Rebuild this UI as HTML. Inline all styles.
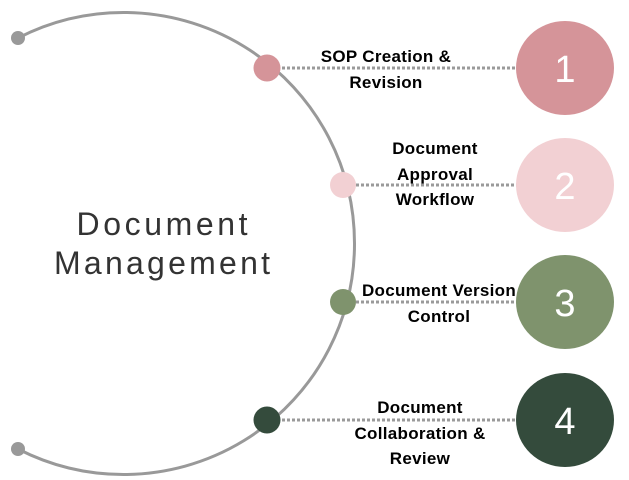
<!DOCTYPE html>
<html><head><style>
body{margin:0;background:#fff;width:629px;height:480px;overflow:hidden}
svg{display:block}
.t{font-family:"Liberation Sans",Arial,sans-serif;font-weight:bold;font-size:17px;fill:#000;text-anchor:middle;letter-spacing:0.3px}
.n{font-family:"Liberation Sans",sans-serif;font-size:38px;fill:#fff;text-anchor:middle}
.d{stroke:#9a9a9a;stroke-width:3;stroke-dasharray:3 2}
.m{font-family:"Liberation Sans",sans-serif;font-size:32px;fill:#333;text-anchor:middle}
</style></head><body>
<svg width="629" height="480" viewBox="0 0 629 480">
<path d="M18 38 A231 231 0 1 1 18 449" fill="none" stroke="#999" stroke-width="3"/>
<circle cx="18" cy="38" r="7" fill="#999"/>
<circle cx="18" cy="449" r="7" fill="#999"/>
<text class="m" x="162" y="235" textLength="171" lengthAdjust="spacing">Document</text>
<text class="m" x="162" y="274" textLength="216" lengthAdjust="spacing">Management</text>
<line class="d" x1="282" y1="68" x2="517" y2="68"/>
<line class="d" x1="356" y1="185" x2="517" y2="185"/>
<line class="d" x1="356" y1="302" x2="517" y2="302"/>
<line class="d" x1="282" y1="420" x2="517" y2="420"/>
<circle cx="267" cy="68" r="13.5" fill="#d59499"/>
<circle cx="343" cy="185" r="13" fill="#f2d0d3"/>
<circle cx="343" cy="302" r="13" fill="#7f936d"/>
<circle cx="267" cy="420" r="13.5" fill="#344b3c"/>
<ellipse cx="565" cy="68" rx="49" ry="47" fill="#d59499"/>
<ellipse cx="565" cy="185" rx="49" ry="47" fill="#f2d0d3"/>
<ellipse cx="565" cy="302" rx="49" ry="47" fill="#7f936d"/>
<ellipse cx="565" cy="420" rx="49" ry="47" fill="#344b3c"/>
<text class="n" x="565" y="82">1</text>
<text class="n" x="565" y="199">2</text>
<text class="n" x="565" y="316">3</text>
<text class="n" x="565" y="434">4</text>
<text class="t" x="386" y="62">SOP Creation &amp;</text>
<text class="t" x="386" y="88">Revision</text>
<text class="t" x="435" y="154">Document</text>
<text class="t" x="435" y="180">Approval</text>
<text class="t" x="435" y="205">Workflow</text>
<text class="t" x="439" y="296">Document Version</text>
<text class="t" x="439" y="322">Control</text>
<text class="t" x="420" y="413">Document</text>
<text class="t" x="420" y="439">Collaboration &amp;</text>
<text class="t" x="420" y="464">Review</text>
</svg>
</body></html>
